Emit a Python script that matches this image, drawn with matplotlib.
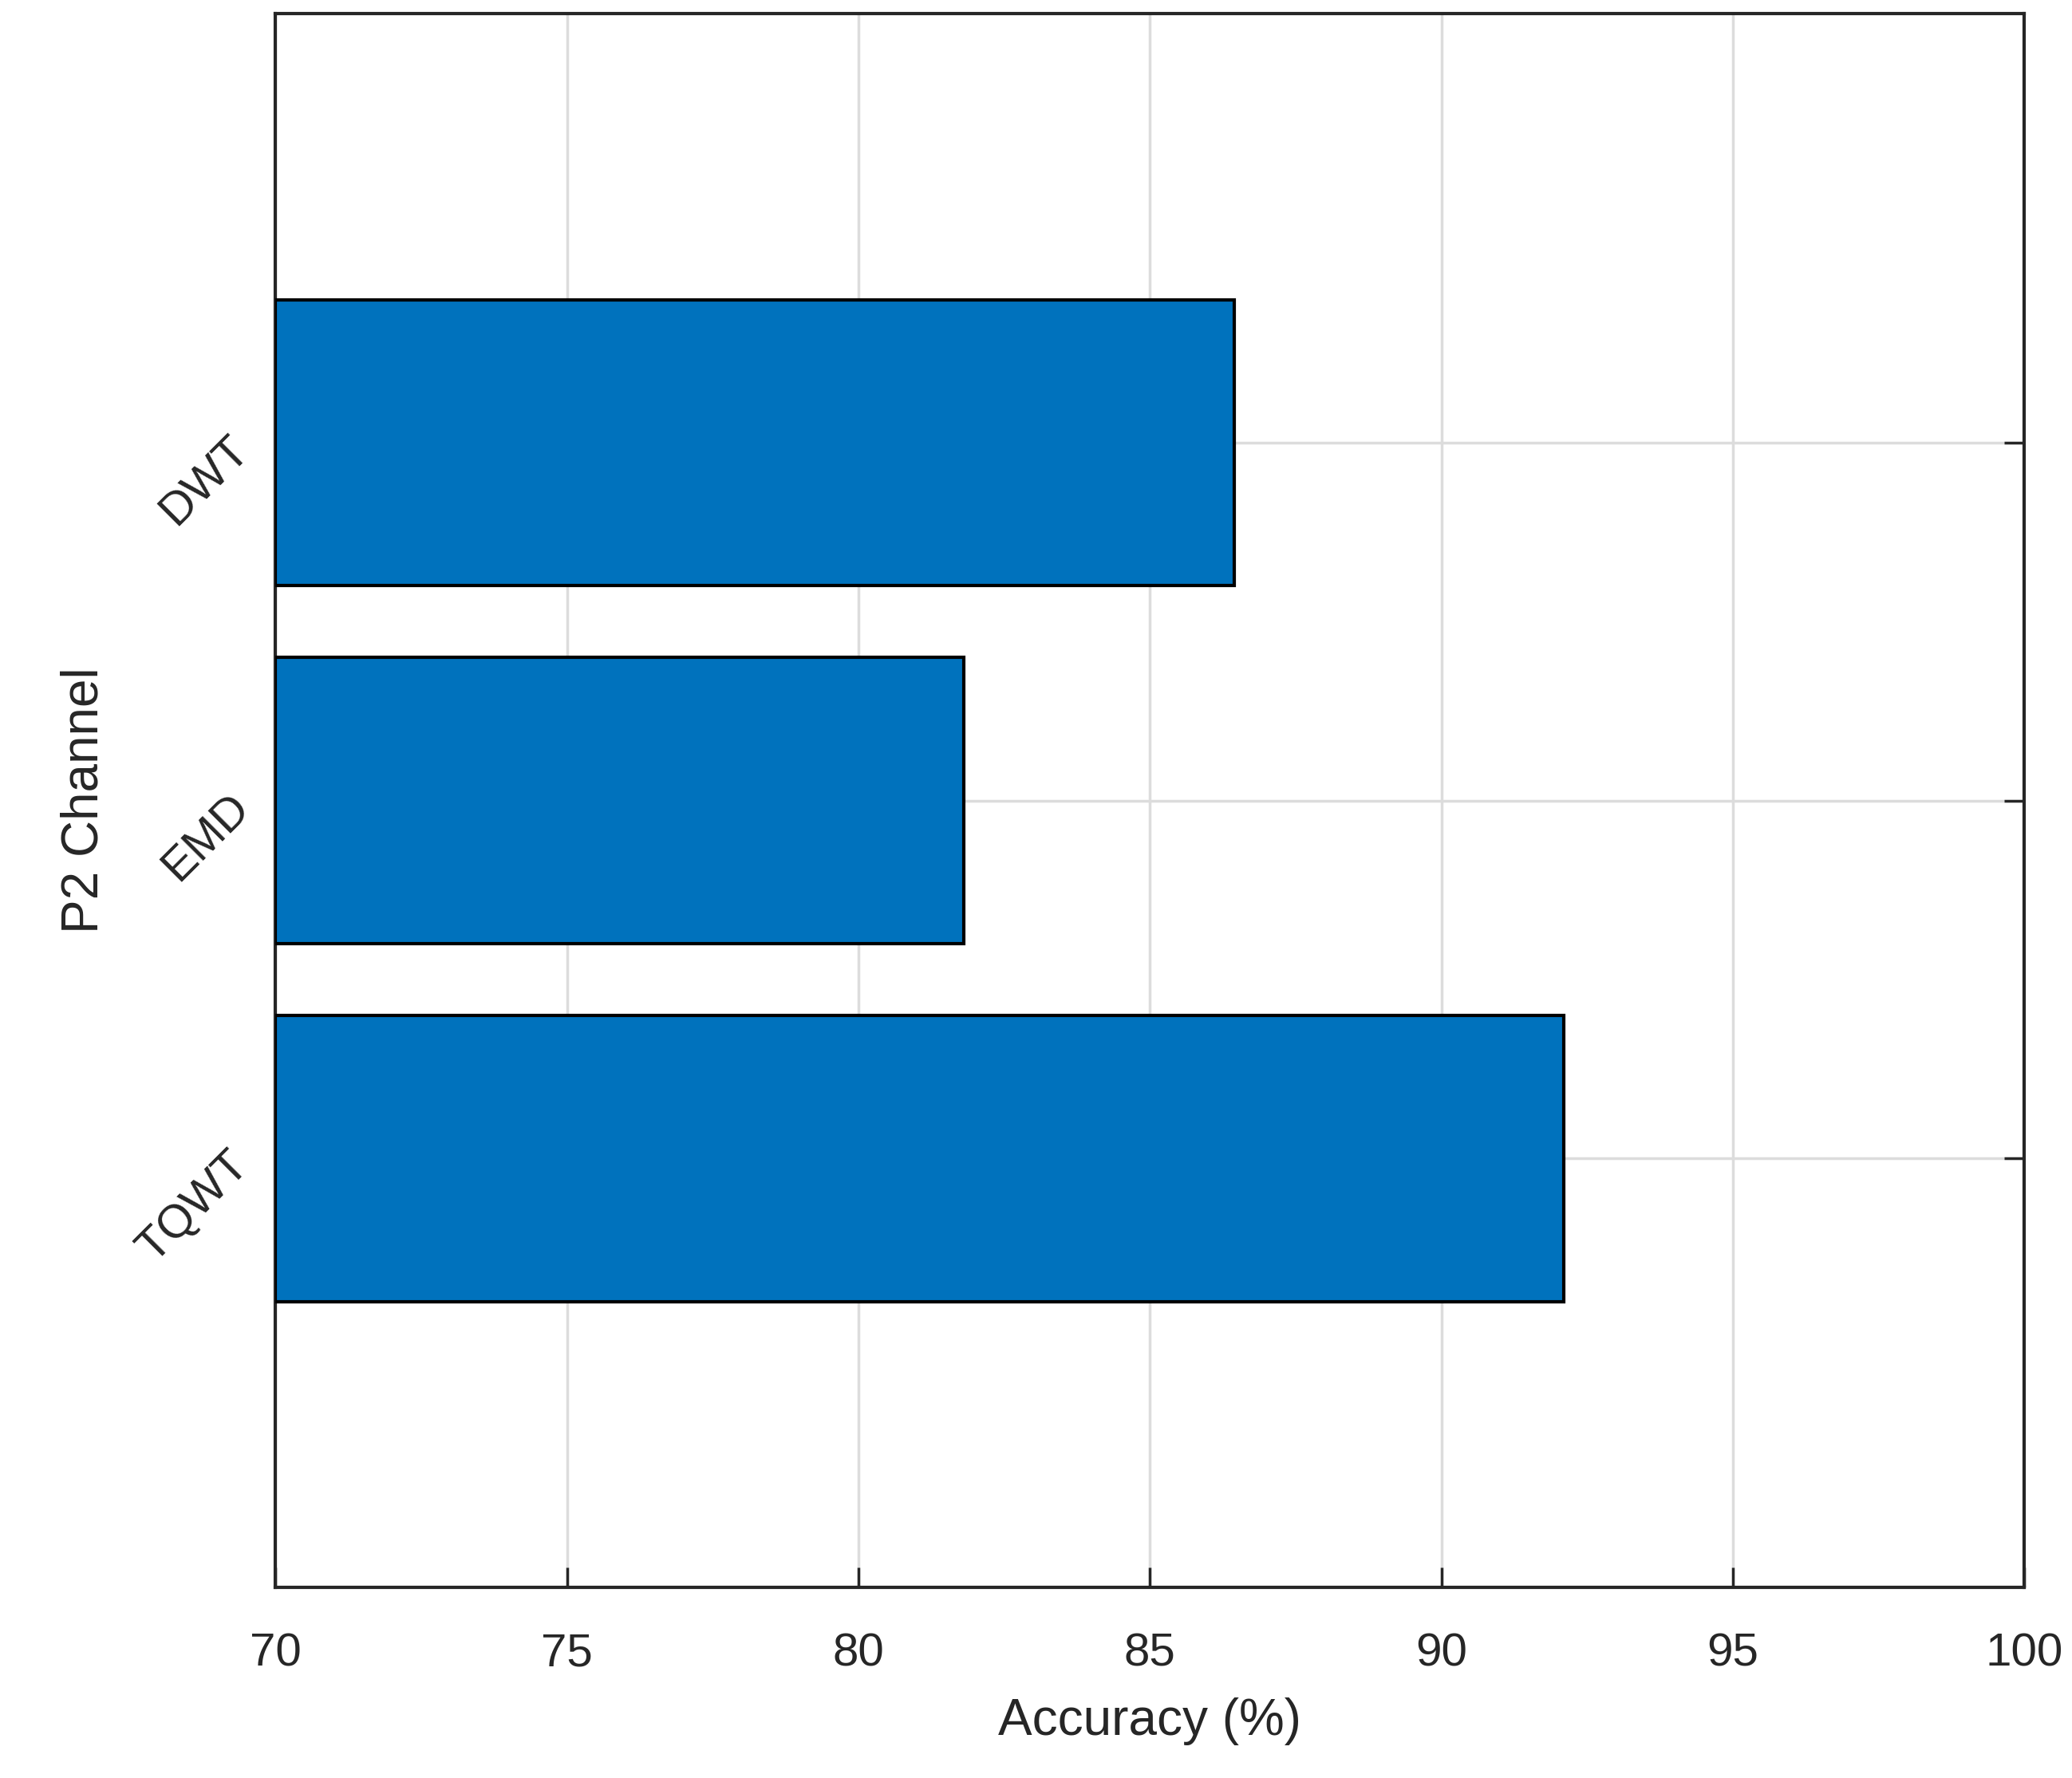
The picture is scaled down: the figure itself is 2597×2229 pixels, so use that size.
import matplotlib
matplotlib.use("Agg")
import matplotlib.pyplot as plt

methods = ["TQWT", "EMD", "DWT"]
accuracy = [92.1, 81.8, 86.45]
x_ticks = [70, 75, 80, 85, 90, 95, 100]

plt.rcParams['font.family'] = ['Liberation Sans', 'DejaVu Sans']

fig = plt.figure(figsize=(25.97, 22.29), dpi=100)
ax = fig.add_axes([0.133, 0.107, 0.844, 0.8855])

pos = list(range(1, len(methods) + 1))
ax.barh(pos, [a - 70 for a in accuracy], left=70, height=0.8,
        color="#0072BD", edgecolor="black", linewidth=3, zorder=3)

ax.set_xlim(70, 100)
ax.set_ylim(-0.2, 4.2)
ax.set_xticks(x_ticks)
ax.set_yticks(pos)
ax.set_yticklabels(methods, rotation=45, ha="right", va="center", rotation_mode="anchor")
ax.tick_params(axis="both", direction="in", length=18, width=2.5, labelsize=42,
               right=True, top=False, pad=30, colors="#262626")
ax.tick_params(axis="x", pad=40)
ax.grid(True, color="#dcdcdc", linewidth=2.5, zorder=0)
for s in ax.spines.values():
    s.set_linewidth(3)
    s.set_color("#262626")

ax.set_xlabel("Accuracy (%)", fontsize=46, color="#262626", labelpad=20)
ax.set_ylabel("P2 Channel", fontsize=46, color="#262626", labelpad=20)

fig.savefig("out.png", dpi=100)
